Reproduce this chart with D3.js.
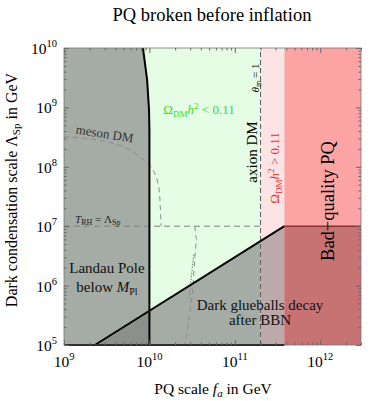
<!DOCTYPE html>
<html>
<head>
<meta charset="utf-8">
<title>PQ broken before inflation</title>
<script src="https://cdn.jsdelivr.net/npm/d3@7"></script>
<style>
  body { margin: 0; background: #fff; }
  svg text { font-family: "Liberation Serif", "DejaVu Serif", serif; }
</style>
</head>
<body>
<div id="chart"></div>
<script>
// ---- data (GeV) ----
var xDomain = [1e9, 3e12];
var yDomain = [1e5, 1e10];
var xTicks = [1e9, 1e10, 1e11, 1e12];
var yTicks = [1e5, 1e6, 1e7, 1e8, 1e9, 1e10];

// boundary values
var faAxion = 2e11;      // theta_m = 1 line
var faBadPQ = 3.8e11;    // bad-quality PQ starts
var lambdaRH = 1e7;      // T_RH = Lambda_Sp

// Landau pole boundary (fa, Lambda)
var landauCurve = [[8.4e9, 1e10], [9.4e9, 2.9e9], [9.9e9, 9e8], [1.0e10, 4e8], [1.0e10, 1e5]];
// glueballs decaying after BBN
var glueLine = [[2.3e9, 1e5], [3.8e11, 1e7]];
// meson DM contours
var mesonA = [[1e9, 3.2e8], [2.6e9, 2.8e8], [5.9e9, 1.9e8], [9.4e9, 1.15e8], [1.1e10, 8.9e7], [1.3e10, 4.1e7], [1.37e10, 1e7]];
var mesonB = [[3.4e10, 1e7], [3.6e10, 5.9e6], [3.2e10, 8.5e5], [2.6e10, 1e5]];
var mesonDot = [[3.3e10, 3.3e6], [2.9e10, 5.8e5]];

var W = 371, H = 401;
var m = {left: 64, right: 10, top: 48, bottom: 56};

var x = d3.scaleLog().domain(xDomain).range([m.left, W - m.right]);
var y = d3.scaleLog().domain(yDomain).range([H - m.bottom, m.top]);

var svg = d3.select("#chart").append("svg")
    .attr("width", W).attr("height", H);

var line = d3.line().x(function (d) { return x(d[0]); }).y(function (d) { return y(d[1]); });
var smooth = d3.line().curve(d3.curveMonotoneX).x(function (d) { return x(d[0]); }).y(function (d) { return y(d[1]); });

var defs = svg.append("defs");
function clipBand(id, x0, x1) {
    defs.append("clipPath").attr("id", id).append("rect")
        .attr("x", x(x0)).attr("y", m.top)
        .attr("width", x(x1) - x(x0)).attr("height", y(yDomain[0]) - m.top);
}
clipBand("cGreen", xDomain[0], faAxion);
clipBand("cPink", faAxion, faBadPQ);
clipBand("cRed", faBadPQ, xDomain[1]);

var landauPoly = [[xDomain[0], yDomain[1]]].concat(landauCurve).concat([[xDomain[0], yDomain[0]]]);
defs.append("clipPath").attr("id", "cLandau").append("path").attr("d", line(landauPoly) + "Z");

// background bands
function band(x0, x1, fill) {
    svg.append("rect")
        .attr("x", x(x0)).attr("y", m.top)
        .attr("width", x(x1) - x(x0)).attr("height", y(yDomain[0]) - m.top)
        .attr("fill", fill);
}
band(xDomain[0], faAxion, "#e5fce5");
band(faAxion, faBadPQ, "#fde4e4");
band(faBadPQ, xDomain[1], "#fca4a4");

// Landau pole region
svg.append("path").attr("d", line(landauPoly) + "Z").attr("fill", "#a5aca5");

// glueball region, coloured per band it overlaps
var gluePoly = glueLine.concat([[xDomain[1], lambdaRH], [xDomain[1], yDomain[0]]]);
[["cGreen", "#a5aca5"], ["cPink", "#bcaaaa"], ["cRed", "#c77373"], ["cLandau", "#8d8f8d"]].forEach(function (p) {
    svg.append("path").attr("d", line(gluePoly) + "Z")
        .attr("fill", p[1]).attr("clip-path", "url(#" + p[0] + ")");
});

// dashed lines
svg.append("path").attr("d", line([[xDomain[0], lambdaRH], [faAxion, lambdaRH]]))
    .attr("fill", "none").attr("stroke", "#808080").attr("stroke-width", 1).attr("stroke-dasharray", "6,4");
svg.append("path").attr("d", line([[faAxion, yDomain[0]], [faAxion, yDomain[1]]]))
    .attr("fill", "none").attr("stroke", "#5a5a5a").attr("stroke-width", 1).attr("stroke-dasharray", "5,3");
[mesonA, mesonB].forEach(function (c) {
    svg.append("path").attr("d", smooth(c))
        .attr("fill", "none").attr("stroke", "#8a8a8a").attr("stroke-width", 1).attr("stroke-dasharray", "5,4");
});
svg.append("path").attr("d", line(mesonDot))
    .attr("fill", "none").attr("stroke", "#8a8a8a").attr("stroke-width", 1.2).attr("stroke-dasharray", "1.5,1.5");

// solid boundaries
svg.append("path").attr("d", line(landauCurve))
    .attr("fill", "none").attr("stroke", "#000").attr("stroke-width", 2);
svg.append("path").attr("d", line(glueLine))
    .attr("fill", "none").attr("stroke", "#000").attr("stroke-width", 2);
svg.append("path").attr("d", line([[xDomain[0], yDomain[0]], [faBadPQ, yDomain[0]]]))
    .attr("fill", "none").attr("stroke", "#000").attr("stroke-width", 2);
svg.append("path").attr("d", line([[faBadPQ, lambdaRH], [xDomain[1], lambdaRH]]))
    .attr("fill", "none").attr("stroke", "#8b2f2f").attr("stroke-width", 1.5);

// frame + inside ticks on all four sides
var minorX = [], minorY = [];
d3.range(9, 13).forEach(function (e) { d3.range(2, 10).forEach(function (k) { var v = k * Math.pow(10, e); if (v <= xDomain[1]) minorX.push(v); }); });
d3.range(5, 10).forEach(function (e) { d3.range(2, 10).forEach(function (k) { minorY.push(k * Math.pow(10, e)); }); });

function axes(g, axisFn, scale, major, minor, pos) {
    var a = g.append("g").attr("transform", pos)
        .call(axisFn(scale).tickValues(major).tickSize(-5).tickFormat(""));
    a.append("g").call(axisFn(scale).tickValues(minor).tickSize(-2.5).tickFormat(""));
    a.selectAll("path.domain").remove();
    a.selectAll("line").attr("stroke", "#666");
}
var fr = svg.append("g");
axes(fr, d3.axisBottom, x, xTicks, minorX, "translate(0," + y(yDomain[0]) + ")");
axes(fr, d3.axisTop, x, xTicks, minorX, "translate(0," + m.top + ")");
axes(fr, d3.axisLeft, y, yTicks, minorY, "translate(" + m.left + ",0)");
axes(fr, d3.axisRight, y, yTicks, minorY, "translate(" + (W - m.right) + ",0)");

svg.append("rect")
    .attr("x", m.left).attr("y", m.top)
    .attr("width", W - m.right - m.left).attr("height", y(yDomain[0]) - m.top)
    .attr("fill", "none").attr("stroke", "#777").attr("stroke-width", 0.8);

// tick labels
function pow10(sel, v) {
    sel.append("tspan").text("10");
    sel.append("tspan").attr("dy", -7).attr("font-size", 10.5).text(Math.round(Math.log10(v)));
}
xTicks.forEach(function (v) {
    svg.append("text").attr("x", x(v)).attr("y", 367).attr("text-anchor", "middle")
        .attr("font-size", 15.5).call(pow10, v);
});
yTicks.forEach(function (v) {
    svg.append("text").attr("x", 57).attr("y", y(v) + 6).attr("text-anchor", "end")
        .attr("font-size", 15.5).call(pow10, v);
});

// titles
svg.append("text").attr("x", 212).attr("y", 21).attr("text-anchor", "middle")
    .attr("font-size", 18.5).text("PQ broken before inflation");

var xl = svg.append("text").attr("x", 213).attr("y", 394).attr("text-anchor", "middle").attr("font-size", 15.5);
xl.append("tspan").text("PQ scale ");
xl.append("tspan").attr("font-style", "italic").text("f");
xl.append("tspan").attr("font-style", "italic").attr("font-size", 11).attr("dy", 3).text("a");
xl.append("tspan").attr("dy", -3).text(" in GeV");

var yl = svg.append("text").attr("transform", "translate(17,190) rotate(-90)")
    .attr("text-anchor", "middle").attr("font-size", 16);
yl.append("tspan").text("Dark condensation scale \u039B");
yl.append("tspan").attr("font-size", 11).attr("dy", 3).text("Sp");
yl.append("tspan").attr("dy", -3).text(" in GeV");

// region labels
function omega(g, rel) {
    g.append("tspan").text("\u03A9");
    g.append("tspan").attr("font-size", "0.7em").attr("dy", 3).text("DM");
    g.append("tspan").attr("font-style", "italic").attr("dy", -3).text("h");
    g.append("tspan").attr("font-size", "0.7em").attr("dy", -5).text("2");
    g.append("tspan").attr("dy", 5).text(" " + rel + " 0.11");
}
svg.append("text").attr("x", 199).attr("y", 114).attr("text-anchor", "middle")
    .attr("font-size", 13).attr("fill", "#2ee02e").call(omega, "<");
svg.append("text").attr("transform", "translate(279,168) rotate(-90)").attr("text-anchor", "middle")
    .attr("font-size", 13).attr("fill", "#ee2a2a").call(omega, ">");

var th = svg.append("text").attr("transform", "translate(259,78) rotate(-90)").attr("text-anchor", "middle")
    .attr("font-size", 11);
th.append("tspan").attr("font-style", "italic").text("\u03B8");
th.append("tspan").attr("font-size", 8).attr("dy", 2).text("m");
th.append("tspan").attr("dy", -2).text(" = 1");

svg.append("text").attr("transform", "translate(257,152) rotate(-90)").attr("text-anchor", "middle")
    .attr("font-size", 15).text("axion DM");

svg.append("text").attr("transform", "translate(334,201) rotate(-90)").attr("text-anchor", "middle")
    .attr("font-size", 18.5).text("Bad\u2212quality PQ");

svg.append("text").attr("transform", "translate(104,138) rotate(9)").attr("text-anchor", "middle")
    .attr("font-size", 13).attr("fill", "#333").text("meson DM");

var tr = svg.append("text").attr("x", 75).attr("y", 223).attr("font-size", 11).attr("fill", "#222");
tr.append("tspan").attr("font-style", "italic").text("T");
tr.append("tspan").attr("font-size", 8).attr("dy", 2).text("RH");
tr.append("tspan").attr("dy", -2).text(" = \u039B");
tr.append("tspan").attr("font-size", 8).attr("dy", 2).text("Sp");

svg.append("text").attr("x", 107).attr("y", 273).attr("text-anchor", "middle")
    .attr("font-size", 15).attr("fill", "#111").text("Landau Pole");
var bl = svg.append("text").attr("x", 107).attr("y", 292).attr("text-anchor", "middle")
    .attr("font-size", 15).attr("fill", "#111");
bl.append("tspan").text("below ");
bl.append("tspan").attr("font-style", "italic").text("M");
bl.append("tspan").attr("font-size", 10).attr("dy", 3).text("Pl");

svg.append("text").attr("x", 260).attr("y", 310).attr("text-anchor", "middle")
    .attr("font-size", 15).attr("fill", "#111").text("Dark glueballs decay");
svg.append("text").attr("x", 260).attr("y", 325).attr("text-anchor", "middle")
    .attr("font-size", 15).attr("fill", "#111").text("after BBN");
</script>
</body>
</html>
